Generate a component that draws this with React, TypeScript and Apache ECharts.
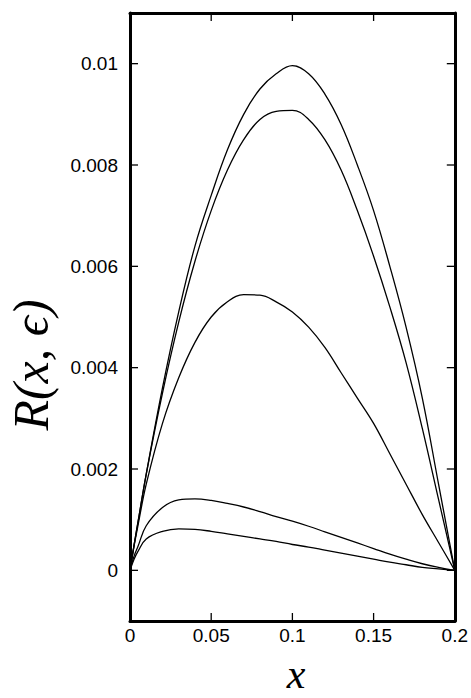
import React, { useEffect, useRef } from "react";
import * as echarts from "echarts";

const xValues = [0, 0.0025, 0.005, 0.01, 0.02, 0.03, 0.04, 0.05, 0.06, 0.07, 0.08, 0.09, 0.1, 0.11, 0.12, 0.13, 0.14, 0.15, 0.16, 0.17, 0.18, 0.19, 0.2];

const curve1 = [0, 0.0005, 0.00097, 0.0019, 0.0036, 0.0051, 0.0064, 0.0074, 0.0083, 0.009, 0.0095, 0.0098, 0.00996, 0.0098, 0.0094, 0.0088, 0.008, 0.0071, 0.006, 0.0048, 0.0034, 0.0017, 0];
const curve2 = [0, 0.0005, 0.00096, 0.0019, 0.0035, 0.0049, 0.0061, 0.0071, 0.0079, 0.0085, 0.0089, 0.00906, 0.00908, 0.0089, 0.0085, 0.0079, 0.0071, 0.0062, 0.0052, 0.0041, 0.0028, 0.0014, 0];
const curve3 = [0, 0.00048, 0.0009, 0.0017, 0.0029, 0.0038, 0.0045, 0.005, 0.0053, 0.00544, 0.00543, 0.0053, 0.0051, 0.0048, 0.0044, 0.0039, 0.0034, 0.0029, 0.0023, 0.0017, 0.0011, 0.00055, 0];
const curve4 = [0, 0.00028, 0.00048, 0.00088, 0.00124, 0.00139, 0.00141, 0.00138, 0.00132, 0.00125, 0.00116, 0.00106, 0.00097, 0.00087, 0.00076, 0.00065, 0.00054, 0.00043, 0.00032, 0.00022, 0.00013, 0.00006, 0];
const curve5 = [0, 0.00022, 0.00038, 0.00062, 0.00077, 0.00082, 0.00081, 0.00077, 0.00072, 0.00067, 0.00062, 0.00057, 0.00051, 0.00046, 0.0004, 0.00034, 0.00028, 0.00022, 0.00016, 0.00011, 0.00006, 0.00003, 0];

const curves = [curve1, curve2, curve3, curve4, curve5];

const xMin = 0;
const xMax = 0.2;
const yMin = -0.001;
const yMax = 0.011;
const xTicks = [0, 0.05, 0.1, 0.15, 0.2];
const xTickLabels = ["0", "0.05", "0.1", "0.15", "0.2"];
const yTicks = [0, 0.002, 0.004, 0.006, 0.008, 0.01];
const yTickLabels = ["0", "0.002", "0.004", "0.006", "0.008", "0.01"];

const labelFor = (ticks: number[], labels: string[]) => (v: number) => {
  const i = ticks.findIndex((t) => Math.abs(t - v) < 1e-9);
  return i >= 0 ? labels[i] : "";
};

const TICK_LEN = 8;
const tickLineStyle = { stroke: "#000", lineWidth: 1.3 };

export default function App() {
  const ref = useRef<HTMLDivElement>(null);
  useEffect(() => {
    if (!ref.current) return;
    const chart = echarts.init(ref.current, null, { renderer: "svg" });
    const labelStyle = { color: "#000", fontFamily: "Liberation Sans, Arial, sans-serif", fontSize: 19 };
    const frameLine = { show: true, onZero: false, lineStyle: { color: "#000", width: 3 } };
    const noTick = { show: false };
    chart.setOption({
      animation: false,
      backgroundColor: "#fff",
      grid: { left: 130, right: 10, top: 13, bottom: 77, show: false },
      xAxis: [
        {
          type: "value", position: "bottom", min: xMin, max: xMax, interval: 0.05,
          axisLine: frameLine, splitLine: { show: false },
          axisTick: noTick,
          axisLabel: { ...labelStyle, margin: 5, formatter: labelFor(xTicks, xTickLabels) },
        },
        {
          type: "value", position: "top", min: xMin, max: xMax, interval: 0.05,
          axisLine: frameLine, splitLine: { show: false },
          axisTick: noTick, axisLabel: { show: false },
        },
      ],
      yAxis: [
        {
          type: "value", position: "left", min: yMin, max: yMax,
          axisLine: frameLine, splitLine: { show: false },
          axisTick: noTick,
          axisLabel: { ...labelStyle, margin: 12, customValues: yTicks, formatter: labelFor(yTicks, yTickLabels) },
        },
        {
          type: "value", position: "right", min: yMin, max: yMax,
          axisLine: frameLine, splitLine: { show: false },
          axisTick: noTick,
          axisLabel: { show: false },
        },
      ],
      graphic: [
        {
          type: "text", x: 296, y: 674, z: 10,
          style: { text: "x", font: "italic 42px 'Liberation Serif', 'Times New Roman', serif", fill: "#000", textAlign: "center", textVerticalAlign: "middle" },
        },
        {
          type: "text", x: 31, y: 365, rotation: Math.PI / 2, z: 10,
          style: { text: "R(x, ϵ)", font: "italic 50px 'Liberation Serif', 'Times New Roman', serif", fill: "#000", textAlign: "center", textVerticalAlign: "middle" },
        },
      ],
      series: [
        ...curves.map((c, k) => ({
          type: "line",
          name: "c" + k,
          xAxisIndex: 0,
          yAxisIndex: 0,
          data: xValues.map((x, i) => [x, c[i]]),
          showSymbol: false,
          symbol: "none",
          smooth: 0.4,
          lineStyle: { color: "#000", width: 1.3 },
          z: 3,
        })),
        {
          type: "custom",
          name: "xticks",
          xAxisIndex: 0,
          yAxisIndex: 0,
          clip: false,
          silent: true,
          z: 4,
          data: xTicks.map((v) => [v, 0]),
          encode: { x: 0, y: 1 },
          renderItem: (params: any, api: any) => {
            const v = api.value(0);
            const b = api.coord([v, yMin]);
            const t = api.coord([v, yMax]);
            return {
              type: "group",
              children: [
                { type: "line", shape: { x1: b[0], y1: b[1], x2: b[0], y2: b[1] - TICK_LEN }, style: tickLineStyle },
                { type: "line", shape: { x1: t[0], y1: t[1], x2: t[0], y2: t[1] + TICK_LEN }, style: tickLineStyle },
              ],
            };
          },
        },
        {
          type: "custom",
          name: "yticks",
          xAxisIndex: 0,
          yAxisIndex: 0,
          clip: false,
          silent: true,
          z: 4,
          data: yTicks.map((v) => [0, v]),
          encode: { x: 0, y: 1 },
          renderItem: (params: any, api: any) => {
            const v = api.value(1);
            const l = api.coord([xMin, v]);
            const r = api.coord([xMax, v]);
            return {
              type: "group",
              children: [
                { type: "line", shape: { x1: l[0], y1: l[1], x2: l[0] + TICK_LEN, y2: l[1] }, style: tickLineStyle },
                { type: "line", shape: { x1: r[0], y1: r[1], x2: r[0] - TICK_LEN, y2: r[1] }, style: tickLineStyle },
              ],
            };
          },
        },
      ],
    });
    return () => chart.dispose();
  }, []);
  return <div ref={ref} style={{ position: "absolute", left: 0, top: 0, width: 471, height: 698 }} />;
}
